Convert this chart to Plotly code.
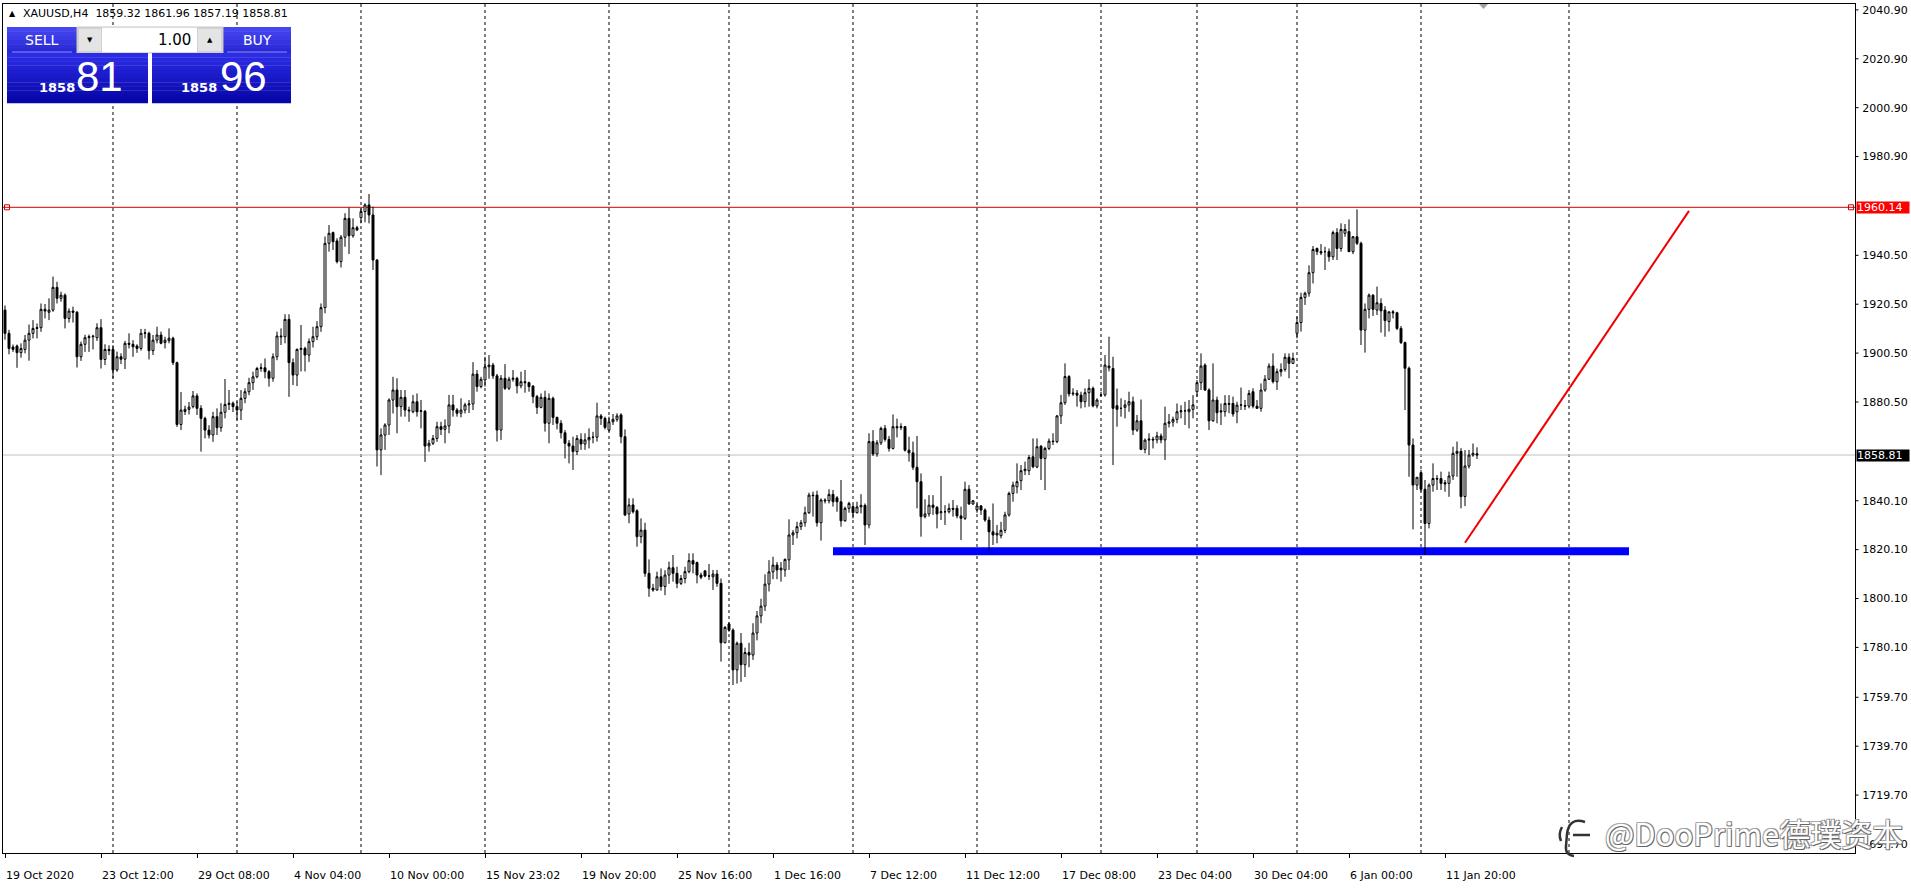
import plotly.graph_objects as go

# ---------------- data ----------------
symbol_text = "XAUUSD,H4"
last_ohlc_text = "1859.32 1861.96 1857.19 1858.81"

opens = [
    1918.1, 1908.6, 1903.0, 1903.4, 1900.7, 1902.0, 1905.8, 1908.6, 1910.6, 1910.9,
    1918.4, 1917.2, 1918.1, 1927.4, 1922.9, 1924.2, 1914.7, 1917.7, 1917.2, 1899.0,
    1904.1, 1906.8, 1907.2, 1906.8, 1910.9, 1897.9, 1902.0, 1902.0, 1893.6, 1899.0,
    1898.0, 1904.5, 1904.1, 1903.4, 1902.4, 1908.6, 1908.6, 1901.5, 1905.8, 1907.9,
    1904.8, 1905.6, 1906.6, 1896.6, 1871.3, 1876.6, 1877.5, 1878.6, 1883.0, 1877.9,
    1873.8, 1869.0, 1867.0, 1874.5, 1870.0, 1876.3, 1879.5, 1880.0, 1878.6, 1877.2,
    1882.0, 1884.7, 1888.4, 1890.8, 1894.2, 1894.5, 1892.9, 1890.2, 1899.0, 1907.5,
    1907.2, 1914.3, 1896.6, 1891.5, 1902.0, 1902.4, 1899.7, 1905.2, 1907.2, 1911.3,
    1919.1, 1945.4, 1949.8, 1946.4, 1937.9, 1947.9, 1955.6, 1948.5, 1951.8, 1955.9,
    1958.4, 1961.1, 1957.0, 1938.6, 1860.9, 1867.0, 1871.1, 1881.3, 1885.4, 1878.6,
    1882.4, 1877.2, 1876.5, 1880.6, 1876.9, 1876.7, 1862.5, 1863.6, 1865.6, 1870.4,
    1869.3, 1870.7, 1879.3, 1877.2, 1875.9, 1877.2, 1879.3, 1879.7, 1891.9, 1886.8,
    1889.5, 1894.9, 1895.6, 1891.2, 1869.0, 1890.2, 1886.1, 1889.8, 1890.2, 1887.1,
    1888.8, 1888.4, 1887.0, 1882.7, 1878.3, 1882.4, 1871.8, 1882.0, 1874.2, 1871.8,
    1867.9, 1863.6, 1862.5, 1860.2, 1865.2, 1863.3, 1865.0, 1866.0, 1866.1, 1874.8,
    1873.8, 1869.0, 1872.4, 1873.4, 1875.2, 1866.3, 1834.7, 1838.4, 1836.0, 1825.4,
    1828.1, 1810.4, 1804.3, 1803.6, 1809.0, 1805.0, 1809.7, 1812.7, 1810.4, 1806.3,
    1808.3, 1811.1, 1815.6, 1814.8, 1809.7, 1811.4, 1809.3, 1809.0, 1810.1, 1806.3,
    1782.0, 1789.7, 1787.2, 1770.9, 1781.8, 1773.0, 1778.0, 1777.0, 1786.0, 1793.0,
    1797.0, 1806.0, 1811.0, 1813.8, 1811.8, 1811.8, 1815.9, 1826.1, 1827.0, 1829.5,
    1831.1, 1835.2, 1842.4, 1842.4, 1831.1, 1840.4, 1840.1, 1842.7, 1841.3, 1839.7,
    1831.9, 1837.0, 1837.7, 1835.2, 1837.6, 1838.2, 1830.2, 1864.3, 1859.2, 1863.8,
    1869.7, 1865.2, 1861.5, 1870.4, 1870.0, 1870.4, 1860.8, 1859.7, 1853.8, 1847.9,
    1833.6, 1834.7, 1838.3, 1837.4, 1835.2, 1835.6, 1835.6, 1837.0, 1837.0, 1833.9,
    1832.9, 1844.8, 1838.8, 1836.4, 1838.0, 1836.3, 1832.2, 1827.4, 1826.1, 1825.8,
    1828.0, 1834.3, 1843.1, 1845.8, 1848.3, 1852.4, 1852.4, 1858.1, 1853.9, 1862.4,
    1857.4, 1861.5, 1864.5, 1864.3, 1874.8, 1880.2, 1890.9, 1883.8, 1884.1, 1883.3,
    1880.6, 1884.3, 1886.1, 1878.9, 1883.3, 1883.4, 1894.5, 1894.2, 1879.0, 1877.9,
    1878.3, 1879.3, 1880.6, 1869.0, 1872.8, 1861.1, 1864.9, 1865.3, 1865.0, 1866.6,
    1865.0, 1871.8, 1872.3, 1873.4, 1876.5, 1876.9, 1876.5, 1877.5, 1884.7, 1888.4,
    1895.6, 1885.4, 1872.8, 1881.3, 1876.9, 1876.5, 1879.9, 1879.9, 1876.5, 1879.2,
    1879.0, 1878.8, 1884.7, 1878.8, 1877.9, 1885.4, 1889.8, 1895.2, 1888.8, 1892.9,
    1893.8, 1898.8, 1896.3, 1908.6, 1913.0, 1923.3, 1925.0, 1933.4, 1943.3, 1942.0,
    1942.0, 1942.0, 1939.9, 1949.8, 1943.3, 1949.5, 1950.2, 1942.0, 1948.1, 1945.4,
    1909.9, 1918.4, 1924.2, 1918.1, 1920.8, 1918.1, 1913.4, 1917.4, 1917.0, 1910.6,
    1904.8, 1894.3, 1862.9, 1846.5, 1851.6, 1844.8, 1830.8, 1846.5, 1849.2, 1849.2,
    1847.5, 1847.2, 1850.2, 1859.5, 1860.3, 1841.8, 1854.3, 1858.8, 1859.32,
]

highs = [
    1920.0, 1910.0, 1904.0, 1904.0, 1904.5, 1907.9, 1912.2, 1914.0, 1912.6, 1920.8,
    1920.6, 1922.9, 1931.8, 1929.7, 1925.6, 1924.9, 1918.8, 1919.5, 1917.7, 1905.2,
    1908.0, 1908.1, 1908.0, 1912.7, 1914.4, 1904.1, 1903.7, 1903.7, 1901.1, 1900.4,
    1905.5, 1908.6, 1905.8, 1904.1, 1910.4, 1910.4, 1909.3, 1907.9, 1911.3, 1909.3,
    1907.2, 1910.6, 1907.2, 1897.0, 1884.6, 1879.0, 1880.5, 1885.0, 1884.0, 1879.2,
    1874.5, 1871.0, 1876.5, 1877.9, 1880.0, 1889.9, 1885.4, 1880.7, 1880.7, 1885.4,
    1886.1, 1890.4, 1892.9, 1894.9, 1896.3, 1898.3, 1893.6, 1900.4, 1909.3, 1910.6,
    1916.4, 1916.4, 1898.3, 1902.4, 1912.0, 1903.1, 1906.5, 1911.3, 1913.6, 1920.8,
    1948.2, 1952.9, 1950.2, 1947.5, 1948.8, 1957.7, 1960.0, 1955.6, 1952.6, 1959.7,
    1961.8, 1965.6, 1960.4, 1938.9, 1869.7, 1871.8, 1882.0, 1890.8, 1890.2, 1885.4,
    1885.4, 1878.6, 1883.4, 1884.0, 1881.3, 1877.2, 1865.0, 1867.0, 1872.4, 1872.4,
    1873.4, 1883.4, 1883.4, 1878.0, 1882.0, 1880.2, 1881.3, 1896.8, 1893.6, 1890.8,
    1899.0, 1899.7, 1896.5, 1892.0, 1891.5, 1896.0, 1890.8, 1893.6, 1890.8, 1892.9,
    1893.6, 1888.8, 1887.4, 1883.4, 1884.0, 1885.1, 1884.0, 1882.7, 1874.5, 1873.1,
    1869.0, 1864.9, 1866.3, 1867.0, 1867.7, 1867.7, 1869.7, 1868.3, 1880.2, 1875.6,
    1874.5, 1874.5, 1875.6, 1875.9, 1875.9, 1869.3, 1841.1, 1841.1, 1836.6, 1832.9,
    1831.1, 1816.1, 1806.1, 1811.1, 1812.4, 1811.7, 1815.2, 1817.9, 1813.1, 1809.7,
    1813.1, 1818.6, 1818.6, 1815.2, 1810.7, 1811.8, 1814.2, 1811.8, 1811.8, 1808.3,
    1788.8, 1790.4, 1787.9, 1782.5, 1786.0, 1780.0, 1782.0, 1790.0, 1795.0, 1800.0,
    1810.0, 1815.8, 1817.2, 1815.0, 1815.0, 1816.5, 1832.5, 1828.1, 1831.5, 1832.2,
    1837.7, 1843.4, 1843.8, 1844.2, 1841.1, 1841.1, 1844.8, 1844.5, 1842.0, 1848.6,
    1837.7, 1839.7, 1838.4, 1839.7, 1842.8, 1839.0, 1867.7, 1869.0, 1864.9, 1870.4,
    1871.1, 1866.6, 1875.4, 1873.7, 1871.8, 1870.7, 1866.3, 1864.3, 1866.6, 1851.3,
    1840.7, 1842.4, 1842.4, 1837.9, 1850.2, 1838.3, 1839.0, 1840.4, 1838.3, 1837.7,
    1847.9, 1846.5, 1840.4, 1839.0, 1838.3, 1837.0, 1833.6, 1839.0, 1830.2, 1831.5,
    1835.6, 1843.8, 1847.9, 1855.4, 1854.7, 1856.1, 1858.8, 1865.6, 1865.6, 1862.9,
    1862.2, 1865.6, 1867.7, 1875.2, 1883.4, 1896.3, 1891.5, 1886.1, 1885.4, 1884.7,
    1886.1, 1889.8, 1886.8, 1882.0, 1884.7, 1899.7, 1907.2, 1899.0, 1886.0, 1882.0,
    1881.3, 1884.7, 1882.7, 1875.2, 1881.5, 1865.6, 1867.7, 1866.3, 1868.3, 1867.6,
    1878.6, 1875.6, 1874.5, 1879.9, 1879.2, 1880.6, 1881.3, 1883.3, 1889.5, 1900.4,
    1896.3, 1886.1, 1896.3, 1882.7, 1879.9, 1883.3, 1883.3, 1882.7, 1880.6, 1886.4,
    1881.3, 1885.4, 1886.1, 1881.3, 1888.1, 1891.5, 1896.3, 1900.4, 1894.2, 1896.3,
    1900.4, 1900.4, 1900.7, 1915.4, 1925.2, 1925.6, 1936.4, 1944.3, 1943.7, 1945.1,
    1944.0, 1943.3, 1950.6, 1951.6, 1953.6, 1953.3, 1955.2, 1948.4, 1959.3, 1946.1,
    1920.8, 1924.9, 1924.6, 1927.7, 1922.9, 1919.7, 1917.4, 1918.1, 1917.4, 1911.6,
    1905.2, 1895.0, 1865.6, 1849.7, 1852.7, 1848.6, 1847.2, 1855.4, 1850.6, 1852.0,
    1848.6, 1852.0, 1862.2, 1864.3, 1861.6, 1860.8, 1860.9, 1863.5, 1861.96,
]

lows = [
    1906.0, 1900.0, 1901.0, 1894.5, 1898.6, 1900.4, 1897.4, 1906.5, 1906.5, 1909.2,
    1914.7, 1914.0, 1917.4, 1920.8, 1921.5, 1910.6, 1913.0, 1913.0, 1894.6, 1897.3,
    1901.0, 1901.0, 1902.0, 1905.5, 1894.2, 1895.6, 1899.7, 1890.2, 1892.9, 1896.0,
    1894.0, 1902.4, 1899.0, 1900.6, 1901.5, 1906.5, 1897.9, 1899.7, 1904.5, 1904.1,
    1902.4, 1904.5, 1895.6, 1870.3, 1869.0, 1875.2, 1875.4, 1877.9, 1875.2, 1860.2,
    1865.6, 1865.6, 1864.2, 1867.0, 1868.3, 1873.8, 1877.2, 1876.4, 1873.1, 1873.1,
    1880.0, 1883.3, 1885.4, 1890.2, 1892.9, 1890.2, 1886.8, 1888.8, 1897.6, 1903.8,
    1904.5, 1882.6, 1887.4, 1887.0, 1893.0, 1893.0, 1896.9, 1902.8, 1905.8, 1909.2,
    1916.8, 1942.0, 1942.7, 1937.2, 1935.5, 1944.0, 1941.0, 1947.7, 1950.4, 1953.6,
    1954.0, 1953.6, 1934.5, 1854.1, 1850.6, 1860.9, 1867.0, 1875.8, 1867.7, 1874.5,
    1874.5, 1872.4, 1875.9, 1874.5, 1869.7, 1856.0, 1860.2, 1862.9, 1864.2, 1867.0,
    1863.6, 1867.7, 1874.5, 1874.5, 1874.2, 1875.8, 1876.0, 1877.2, 1884.7, 1886.1,
    1886.8, 1890.0, 1890.0, 1864.3, 1865.0, 1885.4, 1885.4, 1888.8, 1884.0, 1886.1,
    1884.3, 1884.7, 1880.0, 1875.6, 1877.9, 1868.4, 1863.6, 1871.1, 1869.3, 1865.6,
    1857.4, 1855.4, 1852.7, 1858.8, 1860.9, 1860.9, 1861.5, 1863.6, 1864.3, 1871.1,
    1869.3, 1868.4, 1871.1, 1872.4, 1863.6, 1833.8, 1830.9, 1834.9, 1821.3, 1822.7,
    1809.0, 1800.8, 1802.9, 1803.3, 1803.3, 1801.5, 1806.1, 1807.0, 1804.3, 1805.6,
    1806.3, 1810.4, 1810.4, 1806.3, 1808.0, 1808.8, 1807.7, 1803.6, 1804.9, 1774.3,
    1781.8, 1786.5, 1764.7, 1765.3, 1766.0, 1768.0, 1772.0, 1775.0, 1783.0, 1790.0,
    1795.0, 1803.0, 1808.0, 1808.0, 1807.0, 1809.0, 1811.8, 1822.0, 1824.7, 1828.1,
    1829.5, 1834.7, 1833.6, 1829.5, 1823.8, 1839.0, 1839.0, 1837.7, 1835.6, 1829.5,
    1831.5, 1835.2, 1832.9, 1834.9, 1834.9, 1822.0, 1828.8, 1858.4, 1858.1, 1862.9,
    1864.3, 1860.2, 1861.1, 1866.0, 1869.0, 1860.2, 1856.1, 1852.7, 1837.0, 1825.4,
    1832.9, 1833.6, 1834.3, 1828.8, 1832.2, 1830.2, 1834.9, 1833.6, 1832.9, 1824.0,
    1832.2, 1838.4, 1838.4, 1835.2, 1834.3, 1831.5, 1819.3, 1822.0, 1822.7, 1824.7,
    1826.8, 1833.6, 1839.7, 1843.1, 1844.5, 1850.6, 1850.6, 1853.4, 1853.4, 1848.6,
    1844.5, 1860.8, 1862.9, 1863.6, 1871.5, 1879.3, 1882.7, 1883.0, 1878.6, 1877.9,
    1878.3, 1878.6, 1878.3, 1877.9, 1882.7, 1882.7, 1893.0, 1854.7, 1870.4, 1874.5,
    1873.8, 1876.5, 1867.0, 1868.3, 1860.8, 1859.5, 1858.8, 1861.5, 1863.6, 1863.6,
    1856.8, 1870.1, 1870.4, 1871.8, 1873.8, 1871.1, 1869.7, 1873.8, 1882.7, 1885.4,
    1885.0, 1869.0, 1872.4, 1871.8, 1871.1, 1874.5, 1875.9, 1874.5, 1871.8, 1877.2,
    1877.2, 1877.9, 1877.9, 1877.9, 1876.5, 1884.7, 1889.5, 1888.1, 1885.4, 1890.9,
    1892.9, 1890.2, 1896.0, 1906.5, 1909.3, 1920.2, 1923.6, 1929.0, 1940.6, 1940.6,
    1934.5, 1937.9, 1938.6, 1938.6, 1942.0, 1948.1, 1942.0, 1941.0, 1944.7, 1903.8,
    1900.7, 1914.7, 1915.7, 1916.1, 1908.9, 1907.2, 1909.3, 1914.7, 1909.9, 1904.2,
    1877.2, 1849.9, 1828.4, 1844.5, 1843.8, 1817.9, 1828.8, 1843.8, 1844.5, 1844.5,
    1843.8, 1841.7, 1848.6, 1849.9, 1837.0, 1837.9, 1853.3, 1858.1, 1857.19,
]

closes = [
    1908.6, 1902.4, 1902.0, 1900.7, 1902.4, 1905.8, 1908.6, 1910.6, 1910.9, 1918.4,
    1917.7, 1918.1, 1927.4, 1922.9, 1924.2, 1914.7, 1917.7, 1917.2, 1899.0, 1904.1,
    1906.8, 1907.2, 1907.4, 1910.9, 1897.9, 1902.0, 1901.5, 1893.6, 1899.0, 1898.0,
    1904.5, 1904.1, 1903.1, 1902.4, 1908.6, 1908.8, 1901.5, 1905.8, 1907.9, 1904.5,
    1905.8, 1906.6, 1896.6, 1871.3, 1877.2, 1877.5, 1878.4, 1883.0, 1877.9, 1873.8,
    1869.0, 1867.0, 1874.5, 1870.0, 1876.3, 1879.5, 1880.0, 1878.6, 1877.2, 1882.0,
    1884.7, 1888.4, 1890.8, 1894.2, 1894.5, 1892.9, 1890.2, 1899.0, 1907.5, 1907.2,
    1914.3, 1896.6, 1891.5, 1902.0, 1902.4, 1899.7, 1905.2, 1907.2, 1911.3, 1919.1,
    1945.4, 1949.5, 1946.1, 1937.9, 1947.9, 1955.6, 1948.5, 1951.8, 1950.9, 1958.4,
    1961.1, 1957.0, 1938.6, 1860.9, 1867.0, 1871.1, 1881.3, 1885.4, 1878.6, 1882.4,
    1877.2, 1876.9, 1880.6, 1876.5, 1876.7, 1862.5, 1863.6, 1865.6, 1870.4, 1869.3,
    1870.7, 1879.3, 1877.2, 1875.9, 1877.2, 1879.3, 1879.7, 1891.9, 1886.8, 1889.8,
    1894.9, 1895.6, 1891.2, 1869.0, 1890.2, 1886.1, 1889.8, 1890.2, 1887.1, 1888.8,
    1888.4, 1886.8, 1882.7, 1878.3, 1882.4, 1871.8, 1882.0, 1874.2, 1871.8, 1867.9,
    1863.6, 1862.5, 1860.2, 1865.6, 1863.3, 1865.0, 1866.0, 1866.1, 1874.8, 1873.8,
    1870.1, 1872.4, 1873.4, 1874.8, 1866.3, 1834.3, 1838.4, 1835.6, 1825.4, 1828.1,
    1810.4, 1804.3, 1803.6, 1809.0, 1805.0, 1809.7, 1812.7, 1810.4, 1806.3, 1808.3,
    1811.1, 1815.6, 1814.2, 1809.7, 1808.8, 1809.3, 1809.3, 1810.1, 1806.3, 1782.0,
    1788.3, 1787.2, 1770.9, 1781.8, 1773.0, 1778.0, 1777.0, 1786.0, 1793.0, 1797.0,
    1806.0, 1811.0, 1813.8, 1811.8, 1812.5, 1816.1, 1826.1, 1827.0, 1829.5, 1831.1,
    1835.2, 1842.4, 1842.2, 1831.1, 1840.4, 1840.1, 1842.7, 1839.7, 1839.7, 1831.9,
    1837.0, 1839.0, 1835.2, 1837.6, 1838.2, 1830.2, 1864.3, 1859.2, 1863.8, 1869.7,
    1865.2, 1861.5, 1870.4, 1870.0, 1870.4, 1860.8, 1859.7, 1853.8, 1847.9, 1833.6,
    1834.7, 1838.3, 1837.4, 1834.7, 1835.6, 1835.6, 1837.0, 1836.6, 1833.9, 1832.9,
    1844.8, 1838.8, 1840.1, 1838.0, 1836.3, 1832.2, 1827.4, 1826.1, 1826.8, 1828.0,
    1834.3, 1843.1, 1846.5, 1847.9, 1852.4, 1853.0, 1857.8, 1854.0, 1862.2, 1857.4,
    1861.5, 1864.5, 1864.3, 1874.8, 1880.2, 1890.9, 1883.8, 1884.1, 1883.3, 1880.6,
    1884.3, 1886.1, 1878.9, 1881.3, 1883.4, 1895.6, 1895.2, 1877.9, 1877.5, 1877.9,
    1879.3, 1880.6, 1869.0, 1872.8, 1861.1, 1864.9, 1865.3, 1865.0, 1866.6, 1865.0,
    1871.8, 1872.3, 1873.4, 1876.5, 1876.9, 1876.9, 1877.5, 1879.3, 1888.4, 1895.2,
    1885.4, 1872.8, 1881.3, 1876.1, 1876.5, 1879.9, 1879.6, 1875.6, 1879.2, 1879.3,
    1878.8, 1884.0, 1878.8, 1877.9, 1885.4, 1889.8, 1895.2, 1888.8, 1892.9, 1893.8,
    1898.8, 1896.3, 1898.3, 1913.0, 1923.3, 1925.0, 1933.4, 1942.9, 1942.0, 1941.5,
    1942.0, 1939.9, 1949.8, 1943.3, 1951.1, 1951.1, 1942.0, 1948.1, 1945.4, 1909.9,
    1918.4, 1924.2, 1918.4, 1921.1, 1917.8, 1913.8, 1917.4, 1917.0, 1910.6, 1904.8,
    1894.3, 1862.9, 1846.5, 1849.7, 1844.8, 1830.8, 1846.5, 1849.2, 1849.0, 1847.2,
    1847.0, 1850.2, 1859.5, 1860.3, 1841.8, 1854.3, 1858.8, 1859.5, 1858.81,
]

time_label_bars = [0, 24, 48, 72, 96, 120, 144, 168, 192, 216, 240, 264, 288, 312, 336, 360]
time_labels = ["19 Oct 2020", "23 Oct 12:00", "29 Oct 08:00", "4 Nov 04:00", "10 Nov 00:00",
               "15 Nov 23:02", "19 Nov 20:00", "25 Nov 16:00", "1 Dec 16:00", "7 Dec 12:00",
               "11 Dec 12:00", "17 Dec 08:00", "23 Dec 04:00", "30 Dec 04:00", "6 Jan 00:00",
               "11 Jan 20:00"]
price_ticks = [2040.90, 2020.90, 2000.90, 1980.90, 1940.50, 1920.50, 1900.50, 1880.50,
               1840.10, 1820.10, 1800.10, 1780.10, 1759.70, 1739.70, 1719.70, 1699.70]
week_separator_bars = [27, 58, 89, 120, 151, 181, 212, 243, 274, 298, 323, 354, 391]

resistance_price = 1960.14
bid_price = 1858.81
support_price = 1819.4
support_bars = [207, 406]
trend_bars = [365, 421]
trend_prices = [1822.9, 1958.7]

sell_big, sell_small = "81", "1858"
buy_big, buy_small = "96", "1858"
lot_text = "1.00"
watermark_text = "@DooPrime德璞资本"

# ---------------- layout geometry (pixels) ----------------
W, H = 1911, 888
L, R, T, B = 3, 1855, 4, 853
X_RANGE = [-0.5, 462.5]
Y_RANGE = [1696.0, 2043.31]
FONT = "DejaVu Sans"


def pxx(x):
    return (x - L) / (R - L)


def pxy(y):
    return (B - y) / (B - T)


shapes = []
annotations = []


def rect(x0, y0, x1, y1, fill, line=None, layer="above"):
    d = dict(type="rect", xref="paper", yref="paper",
             x0=pxx(x0), x1=pxx(x1), y0=pxy(y1), y1=pxy(y0),
             fillcolor=fill, layer=layer)
    if line:
        d["line"] = dict(color=line, width=1)
    else:
        d["line"] = dict(width=0)
    shapes.append(d)


def gradient(x0, y0, x1, y1, c_top, c_bot, steps=10):
    h = (y1 - y0) / steps
    for k in range(steps):
        t = k / (steps - 1)
        c = tuple(round(c_top[j] + (c_bot[j] - c_top[j]) * t) for j in range(3))
        rect(x0, y0 + k * h, x1, y0 + (k + 1) * h + 0.3, "rgb(%d,%d,%d)" % c)


def label(x, y, text, size, color="black", anchor="center", family=FONT, bold=False, **kw):
    annotations.append(dict(
        xref="paper", yref="paper", x=pxx(x), y=pxy(y), text=text, showarrow=False,
        xanchor=anchor, yanchor="middle",
        font=dict(family=family, size=size, color=color, weight=700 if bold else 400, **kw)))


# ---------------- chart elements ----------------
bars = list(range(len(closes)))

fig = go.Figure()
fig.add_trace(go.Candlestick(
    x=bars, open=opens, high=highs, low=lows, close=closes,
    increasing=dict(line=dict(color="black", width=1), fillcolor="white"),
    decreasing=dict(line=dict(color="black", width=1), fillcolor="black"),
    whiskerwidth=0, hoverinfo="skip", showlegend=False))

# small hollow squares at the ends of the horizontal line
fig.add_trace(go.Scatter(
    x=[X_RANGE[0] + 1.0, X_RANGE[1] - 1.0], y=[resistance_price, resistance_price],
    mode="markers", marker=dict(symbol="square-open", size=5, color="#D00000", line=dict(width=1)),
    hoverinfo="skip", showlegend=False, cliponaxis=False))

# support (blue), drawn behind
shapes.append(dict(type="line", xref="x", yref="y", x0=support_bars[0], x1=support_bars[1],
                   y0=support_price, y1=support_price, line=dict(color="#0000FF", width=8), layer="below"))
# week separators
for s in week_separator_bars:
    shapes.append(dict(type="line", xref="x", yref="paper", x0=s, x1=s, y0=0, y1=1,
                       line=dict(color="black", width=1, dash="3px,3px"), layer="below"))
# bid line and resistance line
shapes.append(dict(type="line", xref="paper", yref="y", x0=0, x1=1, y0=bid_price, y1=bid_price,
                   line=dict(color="#C0C0C0", width=1), layer="below"))
shapes.append(dict(type="line", xref="paper", yref="y", x0=0, x1=1, y0=resistance_price, y1=resistance_price,
                   line=dict(color="#D00000", width=1), layer="below"))
# trend line
shapes.append(dict(type="line", xref="x", yref="y", x0=trend_bars[0], x1=trend_bars[1],
                   y0=trend_prices[0], y1=trend_prices[1], line=dict(color="#F00000", width=2), layer="below"))

# tick marks of the price scale (outside, to the right of the axis line)
for v in price_ticks:
    shapes.append(dict(type="line", xref="paper", yref="y", x0=1.0, x1=1.0 + 3.5 / (R - L),
                       y0=v, y1=v, line=dict(color="black", width=1), layer="above"))

# price boxes on the axis
for price, bg in [(resistance_price, "#FF0000"), (bid_price, "#000000")]:
    annotations.append(dict(xref="paper", yref="y", x=1.0, y=price, xanchor="left", yanchor="middle",
                            xshift=1, text="%.2f" % price, showarrow=False, bgcolor=bg,
                            width=52, height=11, align="left", borderpad=0,
                            font=dict(family=FONT, size=11, color="white")))

# window border strip
rect(-3, -4, 0, 888, "#D4D0C8")
# chart-shift marker
shapes.append(dict(type="path", xref="paper", yref="paper",
                   path="M %f %f L %f %f L %f %f Z" % (pxx(1479), pxy(4), pxx(1488), pxy(4), pxx(1483.5), pxy(9)),
                   fillcolor="#A0A0A0", line=dict(width=0), layer="above"))

# ---------------- header ----------------
label(12, 14, "▲", 8, anchor="center")
label(21, 14, symbol_text + "\u00a0\u00a0" + last_ohlc_text, 11, anchor="left")

# ---------------- one-click trading panel ----------------
gradient(7, 27, 77, 53, (70, 70, 240), (40, 40, 214), 6)
gradient(223, 27, 291, 53, (70, 70, 240), (40, 40, 214), 6)
rect(12, 51.5, 72, 52.5, "#8C8CF0")
rect(227, 51.5, 287, 52.5, "#8C8CF0")
rect(77, 27, 223, 53, "#F0F0F0", line="#C8C8C8")
rect(78, 28, 102, 52, "#E4E4E4", line="#C0C0C0")
rect(197, 28, 222, 52, "#E4E4E4", line="#C0C0C0")
rect(102, 28, 197, 52, "#FFFFFF")
gradient(7, 53, 148, 103, (44, 44, 228), (6, 6, 168), 12)
gradient(152, 53, 291, 103, (44, 44, 228), (6, 6, 168), 12)

label(42, 40, "SELL", 14, color="white")
label(257, 40, "BUY", 14, color="white")
label(89.5, 40, "▼", 7)
label(209.5, 40, "▲", 7)
label(193, 40, lot_text, 15, anchor="right")
label(57, 87, sell_small, 13, color="white", bold=True)
label(99, 77, sell_big, 42, color="white", family="Liberation Sans Narrow, Liberation Sans")
label(199, 87, buy_small, 13, color="white", bold=True)
label(243, 77, buy_big, 42, color="white", family="Liberation Sans Narrow, Liberation Sans")

# ---------------- watermark ----------------
label(1603, 832, watermark_text, 31, color="white", anchor="left", family="Noto Sans CJK SC",
      shadow="1px 1px 0 #666, -1px -1px 0 #aaa, 1px -1px 0 #888, -1px 1px 0 #888")
logo_paths = [
    [(1585, 822), (1569, 817), (1567, 834), (1566, 846), (1565, 855), (1574, 856)],
    [(1573, 835), (1590, 835)],
    [(1562, 827), (1558, 834), (1561, 841)],
]
for pts in logo_paths:
    if len(pts) == 2:
        p = "M %f %f L %f %f" % (pxx(pts[0][0]), pxy(pts[0][1]), pxx(pts[1][0]), pxy(pts[1][1]))
    elif len(pts) == 3:
        p = "M %f %f Q %f %f %f %f" % (pxx(pts[0][0]), pxy(pts[0][1]), pxx(pts[1][0]), pxy(pts[1][1]),
                                       pxx(pts[2][0]), pxy(pts[2][1]))
    else:
        p = "M %f %f Q %f %f %f %f L %f %f Q %f %f %f %f" % tuple(
            v for (x, y) in pts for v in (pxx(x), pxy(y)))
    shapes.append(dict(type="path", xref="paper", yref="paper", path=p,
                       line=dict(color="#333333", width=2.5), layer="above"))

fig.update_layout(
    width=W, height=H, autosize=False,
    margin=dict(l=L, r=W - R, t=T, b=H - B, pad=0),
    paper_bgcolor="white", plot_bgcolor="white",
    font=dict(family=FONT, size=11, color="black"),
    showlegend=False,
    boxgap=0.3, boxgroupgap=0.3,
    shapes=shapes, annotations=annotations,
    xaxis=dict(range=X_RANGE, showgrid=False, zeroline=False, showline=True, linecolor="black",
               linewidth=1, mirror=True, ticks="outside", ticklen=4, tickcolor="black",
               tickvals=time_label_bars, ticktext=time_labels, ticklabelposition="outside right",
               ticklabelstandoff=12,
               tickfont=dict(family=FONT, size=11, color="black"),
               rangeslider=dict(visible=False), fixedrange=True),
    yaxis=dict(range=Y_RANGE, side="right", showgrid=False, zeroline=False, showline=True,
               linecolor="black", linewidth=1, mirror=True, ticks="", ticklabelstandoff=4,
               tickvals=price_ticks, ticktext=["%.2f" % v for v in price_ticks],
               tickfont=dict(family=FONT, size=11, color="black"), fixedrange=True),
)

fig.write_html("out.html", config={"displayModeBar": False},
               post_script="document.body.style.margin='0px';document.body.style.overflow='hidden';")
